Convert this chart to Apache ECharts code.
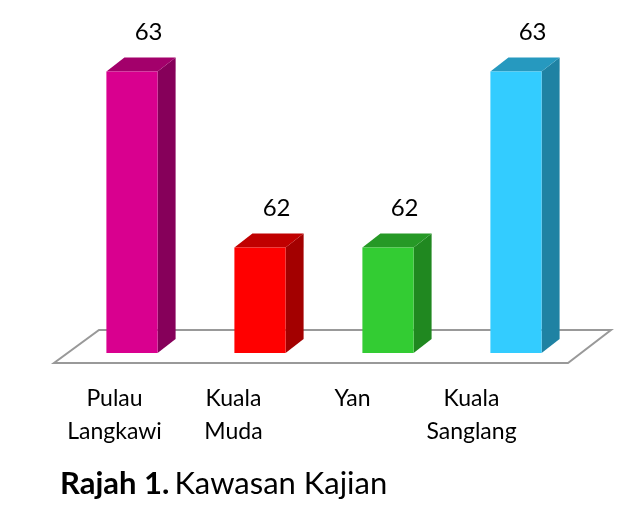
<!DOCTYPE html>
<html>
<head>
<meta charset="utf-8">
<script src="https://cdn.jsdelivr.net/npm/echarts@6/dist/echarts.min.js"></script>
<style>
html,body{margin:0;padding:0;background:#fff;}
#main{width:642px;height:524px;}
</style>
</head>
<body>
<div id="main"></div>
<script>
// Data
const categories = ['Pulau\nLangkawi', 'Kuala\nMuda', 'Yan', 'Kuala\nSanglang'];
const values = [63, 62, 62, 63];
const valueMin = 61.4;
const valueMax = 63.2;

// Styles
const frontColors = ['#D9008F', '#FF0000', '#33CC33', '#33CCFF'];
const topColors   = ['#A3006B', '#C00000', '#269926', '#2699BF'];
const sideColors  = ['#86005A', '#A30000', '#208820', '#1F82A3'];

const DX = 18, DY = -14;
const FONT = 'Lato, "Open Sans", sans-serif';

const chart = echarts.init(document.getElementById('main'));

function renderBar(params, api) {
  const idx = api.value(0);
  const val = api.value(1);
  const top = api.coord([idx, val]);
  const base = api.coord([idx, valueMin]);
  const w = api.size([1, 0])[0] * 0.4;
  const x0 = top[0] - w / 2, x1 = top[0] + w / 2;
  const yt = top[1], yb = base[1];
  return {
    type: 'group',
    children: [
      { type: 'polygon', shape: { points: [[x1, yt], [x1 + DX, yt + DY], [x1 + DX, yb + DY], [x1, yb]] },
        style: { fill: sideColors[idx] } },
      { type: 'polygon', shape: { points: [[x0, yt], [x0 + DX, yt + DY], [x1 + DX, yt + DY], [x1, yt]] },
        style: { fill: topColors[idx] } },
      { type: 'rect', shape: { x: x0, y: yt, width: w, height: yb - yt },
        style: { fill: frontColors[idx] } },
      { type: 'text', x: top[0] + DX * 0.92, y: yt + DY - 25,
        style: { text: String(val), fill: '#000', font: '24px ' + FONT, align: 'center', verticalAlign: 'middle' } }
    ]
  };
}

function renderFloor(params, api) {
  const cs = params.coordSys;
  const L = cs.x, R = cs.x + cs.width, B = cs.y + cs.height;
  return {
    type: 'polygon',
    shape: { points: [[L - 14, B + 10], [R - 12, B + 10], [R + 31, B - 23], [L + 31, B - 23]] },
    style: { fill: '#fff', stroke: '#999', lineWidth: 2 }
  };
}

const option = {
  backgroundColor: '#fff',
  animation: false,
  title: {
    text: '{b|Rajah 1.} {n|Kawasan Kajian}',
    left: 55, top: 463,
    textStyle: {
      rich: {
        b: { fontFamily: FONT, fontSize: 31, fontWeight: 'bold', color: '#000' },
        n: { fontFamily: FONT, fontSize: 31, fontWeight: 'normal', color: '#000' }
      }
    }
  },
  grid: [
    { left: 68, right: 62, top: 36.2, bottom: 171 },
    { left: 55, right: 111, top: 36.2, bottom: 171 }
  ],
  xAxis: [
    { type: 'category', data: categories, gridIndex: 0, show: false },
    { type: 'category', data: categories, gridIndex: 1,
      axisLine: { show: false }, axisTick: { show: false },
      axisLabel: { margin: 29, fontFamily: FONT, fontSize: 23, color: '#000', lineHeight: 33, interval: 0 } }
  ],
  yAxis: [
    { type: 'value', min: valueMin, max: valueMax, gridIndex: 0, show: false },
    { type: 'value', min: valueMin, max: valueMax, gridIndex: 1, show: false }
  ],
  series: [
    { type: 'custom', name: 'floor', xAxisIndex: 0, yAxisIndex: 0, z: 1,
      renderItem: renderFloor, data: [[0, valueMin]], silent: true },
    { type: 'custom', name: 'bars', xAxisIndex: 0, yAxisIndex: 0, z: 2,
      renderItem: renderBar,
      data: values.map((v, i) => [i, v]) }
  ]
};
chart.setOption(option);
</script>
</body>
</html>
